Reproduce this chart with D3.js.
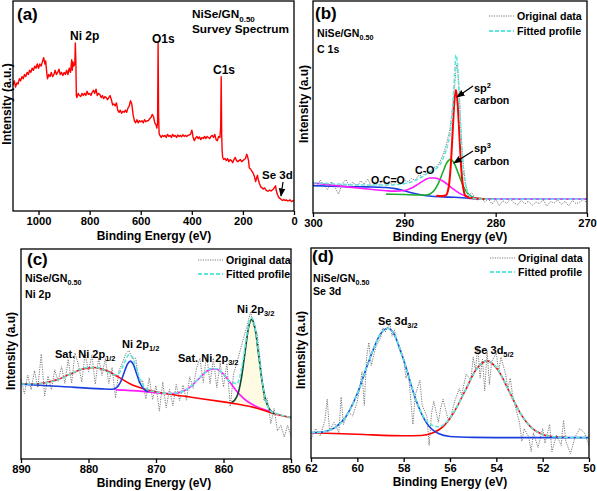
<!DOCTYPE html>
<html><head><meta charset="utf-8">
<script src="https://cdn.jsdelivr.net/npm/d3@7"></script>
<style>
body{margin:0;background:#fff}
svg{display:block}
text{font-family:"Liberation Sans",Arial,sans-serif;font-weight:bold;fill:#000}
</style>
</head><body>
<svg id="chart" width="597" height="491"></svg>
<script>
// ---------------- DATA ----------------
// (a) survey spectrum [binding energy eV, intensity a.u.]
const surveyData = [[1100,60],[1095,62],[1090,59],[1085,61],[1080,60.5],[1075,63],[1070,62],[1065,64],[1060,63],[1055,65],[1050,64],[1045,66],[1040,65],[1035,67],[1030,66],[1025,68],[1020,67],[1015,69],[1010,68],[1005,70],[1000,68],[995,70],[990,69],[985,71],[980,73],[975,70],[972,71.5],[968,66],[965,63],[960,65],[955,64],[950,66],[945,64],[940,65],[935,67],[930,65],[925,66],[920,67.5],[915,65],[910,66],[905,64.5],[900,66],[895,65],[890,67],[885,65],[880,68],[875,66],[870,72],[868,67],[865,71],[862,69],[858,70],[856,80],[854,72],[852,55],[850,54],[845,56],[840,55],[835,54.5],[830,56],[825,55],[820,56],[815,55],[810,57],[805,55.5],[800,56],[795,55],[790,56.5],[785,57.5],[780,56],[775,58],[770,55],[765,56],[760,55.5],[755,54],[750,55],[745,53.5],[740,54.5],[735,54],[730,53],[725,54],[720,55],[715,53],[710,50.5],[705,51],[700,50],[695,51.5],[690,48],[685,47],[680,48],[675,46.5],[670,47.5],[665,47],[660,48],[655,47],[650,49],[645,50],[640,52.5],[635,51],[630,46],[625,43],[620,42],[615,43.5],[610,42],[605,43],[600,42.5],[595,43],[590,42],[585,43.5],[580,42.5],[575,43],[570,43],[565,44],[560,44.5],[555,46],[550,45],[545,42],[540,41],[537,39.5],[534,42],[532,80],[530,45],[528,37],[525,36],[520,35],[515,36],[510,35.5],[505,36],[500,35],[495,36.5],[490,35.5],[485,36],[480,35],[475,36.5],[470,35.5],[465,36],[460,35],[455,36.2],[450,35.5],[445,36],[440,35.4],[435,36.3],[430,35.5],[425,36],[420,35.5],[415,36],[410,36.2],[405,36.5],[400,38.5],[398,37.5],[395,35],[390,33.5],[385,34.8],[380,35.5],[375,34.5],[370,35.3],[365,34],[360,35],[355,34.5],[350,35.5],[345,34.5],[340,35.5],[335,35],[330,34.5],[325,35.5],[320,36],[315,35],[310,36.5],[305,34],[300,33.5],[295,35.5],[290,35],[287,40],[285,64],[283,36],[281,28],[279,25.5],[275,24.5],[270,25],[265,24],[260,25],[255,23.5],[250,24.5],[245,24],[240,23],[235,24.5],[230,25.5],[225,24],[220,23.5],[215,24],[210,24.5],[205,23.5],[200,24],[195,24.5],[190,25],[185,27],[182,26],[178,24],[175,20.5],[170,20],[165,19],[160,18],[155,16.5],[150,14],[147,15.5],[143,17],[140,15],[135,13],[130,11.5],[125,11],[120,10.5],[115,11],[110,10],[105,9.5],[100,9.5],[95,10],[90,9.5],[85,10],[80,10.5],[75,11.5],[72,12],[70,10],[65,8],[60,6.5],[55,6],[50,5.5],[45,5],[40,5.5],[35,5],[30,5.3],[25,4.8],[20,5],[15,5.3],[10,4.5],[5,4.8],[0,5]];
const surveyTicks = [1000,800,600,400,200,0];

// (b) C 1s
const c1sOriginal = [[300,14],[299.6,12.5],[299.2,15.5],[298.8,13],[298.4,11],[298,14.8],[297.6,12.2],[297.2,8.9],[296.8,13.8],[296.4,15.8],[296,12.5],[295.6,14.6],[295.2,11.8],[294.8,15.2],[294.4,13.6],[294,16],[293.6,12.4],[293.2,14.8],[292.8,13.1],[292.4,15.6],[292,12.8],[291.6,14.2],[291.2,13.3],[290.8,15.4],[290.4,14],[290,15.8],[289.6,14.6],[289.2,16.2],[288.8,15.5],[288.4,17.8],[288,17.2],[287.6,19.6],[287.2,19.4],[286.8,21.5],[286.4,22],[286,25],[285.6,29.5],[285.3,34],[285,40],[284.8,47],[284.6,55],[284.45,62],[284.3,70],[284.15,68],[284,58],[283.85,44],[283.7,31],[283.5,21],[283.3,14],[283.1,10],[282.9,8.5],[282.6,9.5],[282.3,7.2],[282,6.1],[281.6,7.3],[281.2,5.2],[280.8,6.8],[280.4,4.2],[280,6.4],[279.6,3.5],[279.2,5.8],[278.8,4.5],[278.4,6.6],[278,4.9],[277.6,3.8],[277.2,6],[276.8,4.3],[276.4,5.6],[276,3.6],[275.6,5.2],[275.2,4.4],[274.8,6.2],[274.4,3.3],[274,5.4],[273.6,4.7],[273.2,6.1],[272.8,4],[272.4,5.5],[272,3.4],[271.6,5.9],[271.2,4.4],[270.8,5.1],[270.4,6.3],[270,4.8]];
const c1sOCO = [[300,12.9],[298,12.6],[296,12.4],[294,12.3],[292,12.0],[291,11.5],[290,10.5],[289,9.3],[288,8.4],[287,7.9],[285,7.5],[283,7.0],[282,6.6],[280,6.5],[270,6.5]];
const c1sCO = [[300,14.2],[298,13.2],[296,12.2],[294,11.3],[292,10.5],[291,10.3],[290,10.6],[289.2,11.8],[288.5,13.6],[287.8,15.5],[287.2,16.5],[286.7,16.5],[286,15.6],[285.3,13.6],[284.6,11.2],[284,9.4],[283.3,8],[282.5,7.0],[281.5,6.6],[280,6.5],[270,6.5]];
const c1sSp3 = [[292,8.9],[290,8.7],[288.5,8.5],[287.65,8.5],[287.2,9.0],[286.75,10.5],[286.3,13.7],[285.85,18.5],[285.4,23.3],[284.95,25.3],[284.5,23.1],[284.05,18.2],[283.6,13.2],[283.15,9.7],[282.7,7.9],[282.25,7.1],[281,6.6],[280,6.5]];
const c1sSp2 = [[286.5,8.1],[285.8,8.0],[285.43,8.4],[285.25,10.0],[285.07,14.6],[284.89,24.1],[284.71,38.3],[284.53,52.2],[284.35,58],[284.17,52.1],[283.99,38.2],[283.81,23.9],[283.63,14.3],[283.45,9.6],[283.27,8.0],[282.5,7.0],[281,6.6]];
const c1sFit = [[300,14.3],[298,13.8],[296,13.4],[294,13.2],[292,13.2],[290,13.8],[289,15],[288,17.2],[287.5,18.6],[287,19.8],[286.5,21],[286,23.5],[285.6,27.5],[285.2,33],[284.9,40],[284.7,50],[284.5,65],[284.35,74.5],[284.2,71],[284.05,60],[283.9,45],[283.7,30],[283.5,19],[283.2,11.5],[282.9,8.2],[282.5,7.0],[282,6.6],[280,6.5],[270,6.5]];
const c1sTicks = [300,290,280,270];

// (c) Ni 2p
const ni2pOriginal = [[890,38],[889.5,31],[889,40],[888.5,33],[888,42],[887.5,34],[887,50],[886.5,30],[886,39.5],[885.5,33],[885,42.5],[884.5,37],[884,44],[883.5,36],[883,47.5],[882.5,36],[882,50.5],[881.5,45],[881,36.7],[880.5,50],[880,41.6],[879.5,49.6],[879,35.6],[878.5,48.2],[878,39.8],[877.5,48],[877,36],[876.5,43.6],[876,29],[875.5,42],[875,45.5],[874.5,50],[874,51.7],[873.5,47.6],[873,48],[872.5,36],[872,37.5],[871.5,28.6],[871,38.6],[870.5,28.3],[870,35],[869.5,22.8],[869,36.6],[868.5,24.4],[868,33.2],[867.5,25.3],[867,35.5],[866.5,27.8],[866,35.2],[865.5,28],[865,39.2],[864.5,33.7],[864,43.2],[863.5,48],[863,36.5],[862.5,49.8],[862,35.9],[861.5,48],[861,34],[860.5,45.8],[860,34.3],[859.5,45.6],[859,25],[858.5,40.7],[858,45.9],[857.5,52],[857,58],[856.5,63.4],[856,70],[855.5,63],[855,59.6],[854.5,45.2],[854,27.7],[853.5,28.7],[853,16.8],[852.5,24],[852,13.4],[851.5,16],[851,10.5],[850.5,16],[850,10.7]];
const ni2pHalfSat = [[890,35.7],[888.2,35.7],[886.4,36.3],[884.6,37.8],[882.8,40.3],[881,42.7],[879.2,43.6],[877.4,42.1],[875.6,39.1],[873.8,35.7],[872,33.6],[870.2,32.1],[868.4,31.1],[865,29.5],[860,27.2],[858,26.2],[855,24.2],[853,22],[850,19.7]];
const ni2pHalf = [[890,35.6],[884,34.5],[878,33.4],[876.5,33.25],[876.05,33.6],[875.6,34.8],[875.15,37.4],[874.7,41.3],[874.25,45.1],[873.8,46.6],[873.35,44.9],[872.9,40.9],[872.45,36.8],[872.0,34.1],[871.55,32.6],[871.1,32.05]];
const ni2pThreeSat = [[876,32.9],[872,32.2],[870,31.6],[868.5,31.2],[867.3,31.2],[866.1,32.1],[864.9,34.4],[863.7,38.1],[862.5,41.8],[861.3,43],[860.1,40.8],[858.9,35.9],[857.7,31],[856.5,27.5],[855.3,25.3],[854.1,23.7],[853,22.6]];
const ni2pThree = [[858.8,27.0],[858.3,28.2],[857.8,31.7],[857.3,39.5],[856.8,51],[856.3,62.4],[855.8,66.5],[855.3,61.7],[854.8,49.6],[854.3,37.3],[853.8,28.7],[853.3,24.3],[852.8,22.3],[852.5,21.5]];
const ni2pFit = [[890,35.7],[888,35.8],[886,36.5],[884,38.4],[882,41.5],[880,43.6],[879,43.6],[878,42.8],[877,41.2],[876,40.1],[875.5,40.8],[875,43.5],[874.5,47.1],[874,49.7],[873.5,48.6],[873,44.2],[872.5,39.1],[872,35.5],[871.5,33.6],[871,32.6],[870,32],[868,31.2],[866,32.2],[864,37.2],[863,40.5],[862,42.9],[861,43.0],[860,40.3],[859,36.8],[858,35.9],[857.5,40.3],[857,49.2],[856.5,60],[856,66.8],[855.8,67.2],[855.5,65],[855,55.6],[854.5,42.2],[854,31.7],[853.5,25.7],[853,22.8],[852,21.4],[851,20.5],[850,19.7]];
const ni2pTicks = [890,880,870,860,850];

// (d) Se 3d
const se3dOriginal = [[62.0,9],[61.8,14],[61.6,10.5],[61.4,18],[61.3,28],[61.2,13],[61.0,17],[60.8,12],[60.7,29],[60.6,16],[60.4,22],[60.2,20],[60.0,27],[59.9,33],[59.8,41],[59.7,25],[59.6,48],[59.5,55],[59.4,44],[59.2,53],[59.0,57],[58.9,62],[58.8,60],[58.6,64],[58.5,58],[58.4,61],[58.2,52],[58.0,47],[57.9,38],[57.8,41],[57.6,16],[57.5,30],[57.3,37],[57.2,25],[57.0,20],[56.9,6],[56.8,21],[56.7,27],[56.5,17],[56.4,24],[56.3,28],[56.1,19],[56.0,18],[55.8,27],[55.6,33],[55.5,30],[55.3,40],[55.1,37],[55.0,48],[54.9,42],[54.8,53],[54.7,38],[54.6,47],[54.5,32],[54.4,51],[54.3,35],[54.2,46],[54.0,50],[53.9,41],[53.8,48],[53.6,40],[53.5,33],[53.4,38],[53.3,30],[53.1,21],[53.0,17],[52.9,8],[52.8,14],[52.6,10],[52.5,3],[52.4,12],[52.2,5],[52.0,14],[51.9,7],[51.7,16],[51.6,3],[51.4,11],[51.2,6],[51.1,18],[51.0,8],[50.8,2],[50.6,10],[50.4,14],[50.2,12],[50.0,6]];
const se3dThree = [[62,12.1],[61.5,12.4],[61,14.25],[60.5,19.6],[60,30.7],[59.5,46.2],[59,59.1],[58.68,61.8],[58.5,60.5],[58,46.7],[57.5,28.5],[57,16.5],[56.5,11.65],[56,10.25],[55,9.8],[54,9.7],[50,9.7]];
const se3dFive = [[62,12],[60,11.3],[58,10.6],[57.25,10.75],[56.78,11.8],[56.3,14.95],[55.83,21.8],[55.35,31.95],[54.88,42],[54.4,46.25],[53.93,41.9],[53.45,31.8],[52.98,21.6],[52.5,14.6],[52.03,11.3],[51.55,10.1],[51,9.8]];
const se3dFit = [[62,12.1],[61.5,12.4],[61,14.3],[60.5,19.6],[60,30.7],[59.5,46.2],[59,59.1],[58.68,61.8],[58.5,60.5],[58,46.7],[57.5,28.7],[57,17.4],[56.5,14.85],[56,19.05],[55.5,28.6],[55,39.7],[54.5,46.05],[54.4,46.25],[54,43.1],[53.5,33],[53,22],[52.5,14.6],[52,11.2],[51.5,10.1],[51,9.75],[50,9.7]];
const se3dTicks = [62,60,58,56,54,52,50];

// ---------------- STYLE ----------------
const COL = {orig:"#7a7a7a", fit:"#5fe6dc", red:"#ff0000", blue:"#1a3ee0", mag:"#ff1aff", green:"#1fae2a", dgreen:"#0b4a30"};

const svg = d3.select("#chart");
const defs = svg.append("defs");
defs.append("marker").attr("id","arr").attr("viewBox","0 0 10 10").attr("refX",9).attr("refY",5)
  .attr("markerWidth",7).attr("markerHeight",7).attr("orient","auto-start-reverse")
  .append("path").attr("d","M0,1 L10,5 L0,9 z").attr("fill","#000");

function makePanel(box, domain, ticks){
  const g = svg.append("g");
  const x = d3.scaleLinear().domain(domain).range([box.x0, box.x1]);
  const y = d3.scaleLinear().domain([0,100]).range([box.y1, box.y0]);
  const ax = g.append("g").attr("transform",`translate(0,${box.y1})`)
    .call(d3.axisBottom(x).tickValues(ticks).tickSize(4).tickPadding(2).tickFormat(d3.format("d")));
  ax.select(".domain").remove();
  ax.selectAll("line").attr("stroke","#000").attr("stroke-width",1.3);
  ax.selectAll("text").attr("font-size",11.2).attr("font-weight","bold").attr("font-family","Liberation Sans, Arial, sans-serif");
  const plot = g.append("g");
  g.append("rect").attr("x",box.x0).attr("y",box.y0).attr("width",box.x1-box.x0).attr("height",box.y1-box.y0)
    .attr("fill","none").attr("stroke","#000").attr("stroke-width",1.3);
  return {g, plot, x, y, box};
}
function drawLine(p, data, color, width, dash, curve){
  const line = d3.line().x(d=>p.x(d[0])).y(d=>p.y(d[1])).curve(curve || d3.curveMonotoneX);
  return p.plot.append("path").datum(data).attr("d",line).attr("fill","none")
    .attr("stroke",color).attr("stroke-width",width).attr("stroke-dasharray",dash||null)
    .attr("stroke-linejoin","round");
}
// text with sub/superscript parts: [str, 'n'|'sub'|'sup']
function label(parent, x, y, parts, size, anchor){
  const t = parent.append("text").attr("x",x).attr("y",y).attr("font-size",size).attr("text-anchor",anchor||"start");
  let shift = 0;
  parts.forEach(pt=>{
    const [s,k] = typeof pt === "string" ? [pt,"n"] : pt;
    let target = k==="sub" ? size*0.3 : k==="sup" ? -size*0.38 : 0;
    const ts = t.append("tspan").text(s).attr("dy", target - shift);
    if(k!=="n") ts.attr("font-size", size*0.68);
    shift = target;
  });
  return t;
}
function yTitle(x, cy, txt){
  svg.append("text").attr("transform",`translate(${x},${cy}) rotate(-90)`).attr("text-anchor","middle")
    .attr("font-size",12).text(txt);
}
function xTitle(cx, y){
  svg.append("text").attr("x",cx).attr("y",y).attr("text-anchor","middle").attr("font-size",12).text("Binding Energy (eV)");
}
function legend(x, y1, y2){
  svg.append("line").attr("x1",x).attr("x2",x+25).attr("y1",y1).attr("y2",y1).attr("stroke",COL.orig).attr("stroke-width",1).attr("stroke-dasharray","1.2,1.2");
  svg.append("text").attr("x",x+28).attr("y",y1+3.5).attr("font-size",10.6).text("Original data");
  svg.append("line").attr("x1",x).attr("x2",x+25).attr("y1",y2).attr("y2",y2).attr("stroke",COL.fit).attr("stroke-width",1.8).attr("stroke-dasharray","4,2");
  svg.append("text").attr("x",x+28).attr("y",y2+3.5).attr("font-size",10.6).text("Fitted profile");
}
function arrow(x1,y1,x2,y2){
  svg.append("line").attr("x1",x1).attr("y1",y1).attr("x2",x2).attr("y2",y2).attr("stroke","#000").attr("stroke-width",1.2).attr("marker-end","url(#arr)");
}

// ---------------- PANEL A ----------------
const pa = makePanel({x0:13,x1:294,y0:1,y1:211},[1100,0],surveyTicks);
drawLine(pa, surveyData, COL.red, 1.4, null, d3.curveLinear);
label(svg, 17, 20, ["(a)"], 17);
label(svg, 192, 18, ["NiSe/GN",["0.50","sub"]], 11.8);
label(svg, 192, 33, ["Survey Spectrum"], 11.8);
label(svg, 70, 40, ["Ni 2p"], 12);
label(svg, 152, 43, ["O1s"], 12);
label(svg, 213, 74, ["C1s"], 12);
label(svg, 262, 179, ["Se 3d"], 11.5);
arrow(283, 182, 281, 196);
yTitle(11, 104, "Intensity (a.u.)");
xTitle(154, 240);

// ---------------- PANEL B ----------------
const pb = makePanel({x0:313,x1:587,y0:1,y1:213},[300,270],c1sTicks);
drawLine(pb, c1sOriginal, COL.orig, 1, "1.2,1.2", d3.curveLinear);
drawLine(pb, c1sOCO, COL.blue, 1.6);
drawLine(pb, c1sSp3, COL.green, 1.6);
drawLine(pb, c1sCO, COL.mag, 1.6);
drawLine(pb, c1sSp2, COL.red, 2);
drawLine(pb, c1sFit, COL.fit, 1.6, "4,2");
label(svg, 315, 19, ["(b)"], 17);
label(svg, 317, 37, ["NiSe/GN",["0.50","sub"]], 10.6);
label(svg, 317, 53, ["C 1s"], 10.6);
legend(489, 16, 31);
label(svg, 474, 92, ["sp",["2","sup"]], 11);
label(svg, 474, 104, ["carbon"], 10.6);
label(svg, 474, 152, ["sp",["3","sup"]], 11);
label(svg, 474, 165, ["carbon"], 10.6);
arrow(473, 86, 457, 97);
arrow(473, 151, 454, 163);
label(svg, 371, 184, ["O-C=O"], 10.6);
label(svg, 415, 174, ["C-O"], 10.6);
yTitle(308, 104, "Intensity (a.u)");
xTitle(450, 241);

// ---------------- PANEL C ----------------
const pc = makePanel({x0:21,x1:291,y0:249,y1:459},[890,850],ni2pTicks);
pc.plot.append("path").datum(ni2pThree).attr("d", d3.line().x(d=>pc.x(d[0])).y(d=>pc.y(d[1])).curve(d3.curveMonotoneX)).attr("fill","#fffbe3").attr("stroke","none");
drawLine(pc, ni2pOriginal, COL.orig, 1, "1.2,1.2", d3.curveLinear);
drawLine(pc, ni2pThreeSat, COL.mag, 1.6);
drawLine(pc, ni2pHalfSat, COL.red, 1.6);
drawLine(pc, ni2pHalf, COL.blue, 1.6);
drawLine(pc, ni2pThree, COL.dgreen, 1.6);
drawLine(pc, ni2pFit, COL.fit, 1.6, "4,2");
label(svg, 27, 265, ["(c)"], 17);
label(svg, 25, 282, ["NiSe/GN",["0.50","sub"]], 10.6);
label(svg, 25, 298, ["Ni 2p"], 10.6);
legend(198, 260, 274);
label(svg, 55, 358, ["Sat. Ni 2p",["1/2","sub"]], 11);
label(svg, 122, 348, ["Ni 2p",["1/2","sub"]], 11);
label(svg, 178, 362, ["Sat. Ni 2p",["3/2","sub"]], 11);
label(svg, 237, 313, ["Ni 2p",["3/2","sub"]], 11);
yTitle(15, 351, "Intensity (a.u)");
xTitle(154, 487);

// ---------------- PANEL D ----------------
const pd = makePanel({x0:311,x1:589,y0:248,y1:458},[62,50],se3dTicks);
drawLine(pd, se3dOriginal, COL.orig, 1, "1.2,1.2", d3.curveLinear);
drawLine(pd, se3dFive, COL.red, 1.6);
drawLine(pd, se3dThree, COL.blue, 1.6);
drawLine(pd, se3dFit, COL.fit, 1.6, "4,2");
label(svg, 312, 262, ["(d)"], 17);
label(svg, 313, 282, ["NiSe/GN",["0.50","sub"]], 10.6);
label(svg, 313, 295, ["Se 3d"], 10.6);
legend(490, 258, 272);
label(svg, 378, 325, ["Se 3d",["3/2","sub"]], 11);
label(svg, 474, 354, ["Se 3d",["5/2","sub"]], 11);
yTitle(305, 350, "Intensity (a.u)");
xTitle(450, 486);
</script>
</body></html>
